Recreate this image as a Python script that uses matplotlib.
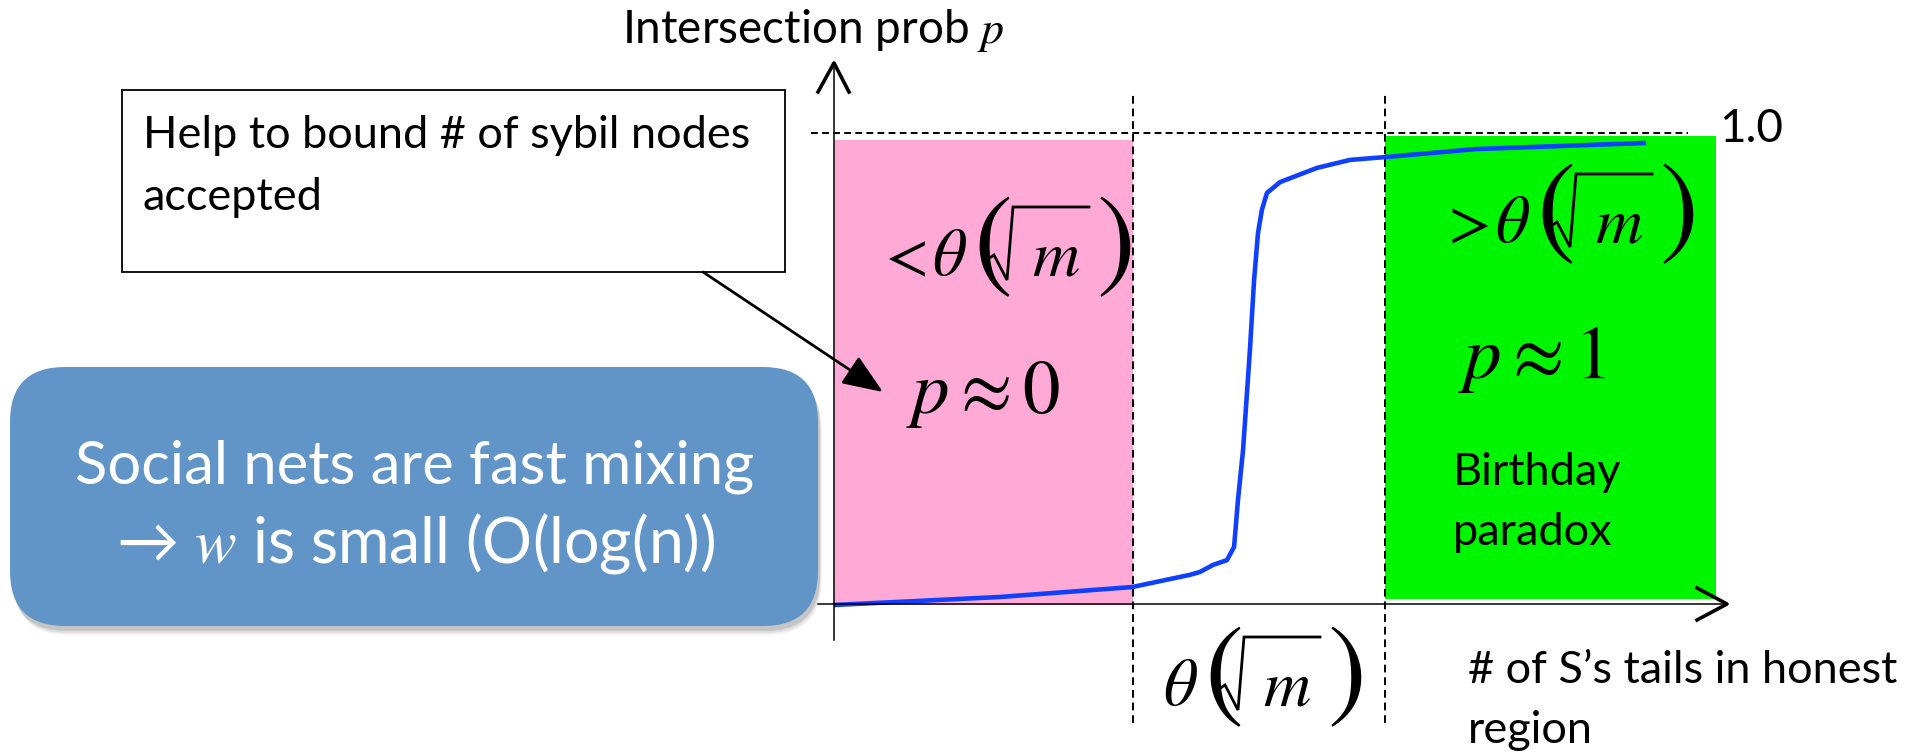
import matplotlib.pyplot as plt
from matplotlib.patches import FancyBboxPatch, Rectangle

plt.rcParams['mathtext.fontset'] = 'stix'

# curve: intersection probability vs number of tails (x in units of theta(sqrt m))
tails = [0.0, 0.555, 0.997, 1.191, 1.224, 1.268, 1.314, 1.338, 1.351, 1.368,
         1.391, 1.405, 1.418, 1.431, 1.448, 1.492, 1.615, 1.726, 1.843, 2.147, 2.716]
prob = [0.0, 0.017, 0.038, 0.064, 0.070, 0.085, 0.095, 0.123, 0.222, 0.328,
        0.540, 0.689, 0.788, 0.837, 0.873, 0.896, 0.926, 0.943, 0.949, 0.966, 0.979]

# shaded regions (low / high) and the two theta(sqrt m) boundaries
region_left = [0.0, 1.843]
region_right = [1.0, 2.950]
region_bottom = [0.0, 0.013]
region_top = [0.985, 0.994]
region_colors = ['#ffaad6', '#00f500']
bounds = [1.0, 1.843]

W, H = 1916, 753
fig = plt.figure(figsize=(W / 100, H / 100), dpi=100)
fig.patch.set_facecolor('white')

SANS = ['Lato', 'DejaVu Sans']

# chart axes: origin at pixel (834, 605), p = 1 at pixel row 133
cx = fig.add_axes([834 / W, (H - 605) / H, (1727 - 834) / W, 472 / H], zorder=1)
cx.set_xlim(0, (1727 - 834) / 299)
cx.set_ylim(0, 1)
cx.axis('off')

for l, r, b, t, c in zip(region_left, region_right, region_bottom, region_top, region_colors):
    cx.bar(l, t - b, width=r - l, bottom=b, align='edge', color=c, linewidth=0)

for bx in bounds:
    cx.plot([bx, bx], [-0.250, 1.085], color='k', lw=1.4, dashes=(4, 2.5), clip_on=False)
cx.plot([-0.077, 2.856], [1.0, 1.0], color='k', lw=1.4, dashes=(3.5, 2.2), clip_on=False)

cx.plot(tails, prob, color='#1040ff', lw=3.3, solid_capstyle='butt', clip_on=False)

# overlay in pixel coordinates for the slide annotations
ax = fig.add_axes([0, 0, 1, 1], zorder=3)
ax.set_xlim(0, W)
ax.set_ylim(H, 0)
ax.axis('off')
ax.patch.set_alpha(0)

# axis arrows
ax.plot([834, 834], [640, 64], color='k', lw=1.1)
ax.plot([818, 834, 849], [92, 63, 92], color='k', lw=2.6)
ax.plot([818, 1726], [604, 604], color='k', lw=1.1)
ax.plot([1697, 1727, 1697], [588, 604, 620], color='k', lw=2.6)

ax.text(622, 43, 'Intersection prob $p$', fontsize=33, family=SANS, va='baseline')
ax.text(1719, 142, '1.0', fontsize=33, family=SANS, va='baseline')


def theta_sqrt_m(x0, base, prefix=None):
    if prefix:
        ax.text(x0 - 56, base, prefix, fontsize=45, va='baseline')
    ax.text(x0, base, r'$\theta$', fontsize=48, va='baseline')
    ax.text(x0 + 41, base - 31, r'$($', fontsize=84, va='center')
    ax.plot([x0 + 56, x0 + 62, x0 + 75, x0 + 81, x0 + 157],
            [base - 16, base - 20, base + 5, base - 68, base - 68],
            color='k', lw=2.0, solid_joinstyle='miter')
    ax.text(x0 + 100, base, r'$m$', fontsize=47, va='baseline')
    ax.text(x0 + 164, base - 31, r'$)$', fontsize=84, va='center')


theta_sqrt_m(932, 275, r'$<$')
theta_sqrt_m(1495, 242, r'$>$')
theta_sqrt_m(1163, 705)

ax.text(906, 413, r'$p\approx0$', fontsize=54, va='baseline')
ax.text(1458, 378, r'$p\approx1$', fontsize=54, va='baseline')

ax.text(1453, 485, 'Birthday', fontsize=32.5, family=SANS, va='baseline')
ax.text(1453, 545, 'paradox', fontsize=32.5, family=SANS, va='baseline')
ax.text(1468, 683, '# of S\u2019s tails in honest', fontsize=32.5, family=SANS, va='baseline')
ax.text(1468, 743, 'region', fontsize=32.5, family=SANS, va='baseline')

# callout box
ax.add_patch(Rectangle((122, 90), 663, 182, facecolor='white', edgecolor='k', lw=1.3))
ax.text(143, 148, 'Help to bound # of sybil nodes', fontsize=32.5, family=SANS, va='baseline')
ax.text(143, 210, 'accepted', fontsize=32.5, family=SANS, va='baseline')
ax.annotate('', xy=(883, 392), xytext=(703, 272),
            arrowprops=dict(arrowstyle='-|>,head_length=1.25,head_width=0.5',
                            mutation_scale=20, color='k', lw=2, shrinkA=0, shrinkB=0))

# rounded blue box with soft shadow
for off, a in [(9, 0.08), (7, 0.12), (5, 0.18)]:
    ax.add_patch(FancyBboxPatch((10 + off * 0.4, 367 + off), 808, 259,
                                boxstyle='round,pad=0,rounding_size=55',
                                facecolor='#555555', edgecolor='none', alpha=a))
ax.add_patch(FancyBboxPatch((10, 367), 808, 259, boxstyle='round,pad=0,rounding_size=55',
                            facecolor='#6195c7', edgecolor='none'))
ax.text(415, 483, 'Social nets are fast mixing', fontsize=43, family=SANS,
        color='white', ha='center', va='baseline')
ax.text(416, 563, '\u2192 $w$ is small (O(log(n))', fontsize=45, family=SANS,
        color='white', ha='center', va='baseline')

fig.savefig('out.png', dpi=100)
